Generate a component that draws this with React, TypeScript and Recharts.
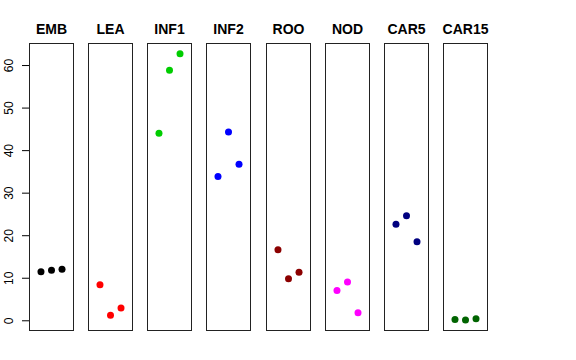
import React from "react";
import { ScatterChart, Scatter, XAxis, YAxis } from "recharts";

const panels = ["EMB", "LEA", "INF1", "INF2", "ROO", "NOD", "CAR5", "CAR15"];
const positions = [1, 2, 3];

const emb = [11.5, 11.9, 12.1];
const lea = [8.5, 1.3, 3.0];
const inf1 = [44.1, 58.9, 62.8];
const inf2 = [33.9, 44.4, 36.8];
const roo = [16.7, 9.9, 11.4];
const nod = [7.1, 9.1, 1.9];
const car5 = [22.7, 24.7, 18.6];
const car15 = [0.3, 0.2, 0.5];

const series = [emb, lea, inf1, inf2, roo, nod, car5, car15];
const colors = ["#000000", "#FF0000", "#00CD00", "#0000FF", "#8B0000", "#FF00FF", "#000080", "#006400"];
const yTicks = [0, 10, 20, 30, 40, 50, 60];

const font = "'Liberation Sans', Arial, Helvetica, sans-serif";
const panelTop = 43;
const panelW = 45;
const panelH = 288;
const axisW = 29;
const pitch = 59.14;

const YTick = (props: any) => {
  const { y, payload } = props;
  return (
    <text
      x={13}
      y={y}
      transform={`rotate(-90, 13, ${y})`}
      textAnchor="middle"
      fontSize={12}
      fontFamily={font}
      fill="#000"
    >
      {payload.value}
    </text>
  );
};

const Panel = ({ idx }: { idx: number }) => {
  const first = idx === 0;
  const left = axisW + Math.round(idx * pitch);
  const data = positions.map((x, i) => ({ x, y: series[idx][i] }));
  const color = colors[idx];
  const chartLeft = first ? 0 : left;
  return (
    <>
      <div
        style={{
          position: "absolute",
          left: left + panelW / 2 - 40,
          width: 80,
          top: 22,
          lineHeight: "14px",
          textAlign: "center",
          fontFamily: font,
          fontWeight: "bold",
          fontSize: 14,
          color: "#000",
        }}
      >
        {panels[idx]}
      </div>
      <div style={{ position: "absolute", left: chartLeft, top: panelTop }}>
        <ScatterChart
          width={first ? axisW + panelW : panelW}
          height={panelH}
          margin={{ top: 0, right: 0, bottom: 0, left: 0 }}
        >
          <XAxis type="number" dataKey="x" domain={[-0.14, 4.14]} hide />
          <YAxis
            type="number"
            dataKey="y"
            domain={[-2.4, 65.3]}
            ticks={yTicks}
            hide={!first}
            width={axisW}
            axisLine={false}
            tickLine={{ stroke: "#000" }}
            tickSize={7}
            tick={<YTick />}
            interval={0}
          />
          <Scatter
            data={data}
            isAnimationActive={false}
            shape={(p: any) => <circle cx={p.cx} cy={p.cy} r={3.5} fill={color} />}
          />
        </ScatterChart>
      </div>
      <div
        style={{
          position: "absolute",
          left,
          top: panelTop,
          width: panelW,
          height: panelH,
          boxSizing: "border-box",
          border: "1px solid #222",
          pointerEvents: "none",
        }}
      />
    </>
  );
};

export default function App() {
  return (
    <div
      style={{
        position: "absolute",
        left: 0,
        top: 0,
        width: 576,
        height: 360,
        background: "#fff",
        overflow: "hidden",
      }}
    >
      {panels.map((_, i) => (
        <Panel key={i} idx={i} />
      ))}
    </div>
  );
}
